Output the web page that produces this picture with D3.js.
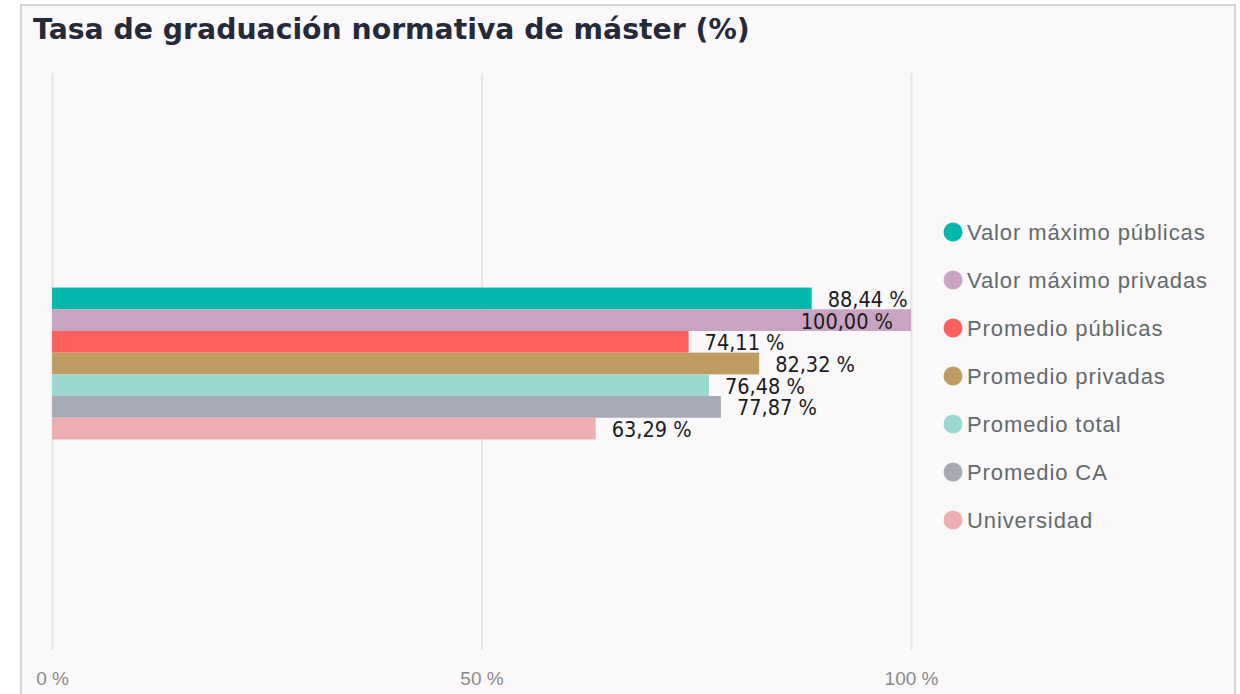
<!DOCTYPE html>
<html>
<head>
<meta charset="utf-8">
<script src="https://cdn.jsdelivr.net/npm/d3@7"></script>
<style>
  body { margin: 0; background: #ffffff; }
  svg { display: block; }
</style>
</head>
<body>
<div id="wrapper"></div>
<script>
const categories = ["Tasa de graduación normativa de máster"];
const seriesNames = [
    "Valor máximo públicas",
    "Valor máximo privadas",
    "Promedio públicas",
    "Promedio privadas",
    "Promedio total",
    "Promedio CA",
    "Universidad"
];
const seriesValues = [88.44, 100.00, 74.11, 82.32, 76.48, 77.87, 63.29];
const seriesColors = ["#02b8aa", "#c9a4c2", "#fd615d", "#be9c64", "#9cd7d1", "#a6aab4", "#ecaeae"];
const xTicks = [0, 50, 100];

function drawChart() {

    // dimensions
    const dms = {
        width: 1240,
        height: 694,
        plot: { left: 52, right: 911, top: 73, bottom: 650 }
    };

    const data = seriesNames.map((name, i) => ({
        name,
        value: seriesValues[i],
        color: seriesColors[i]
    }));

    const svg = d3.select("#wrapper")
        .append("svg")
        .attr("width", dms.width)
        .attr("height", dms.height);

    // panel
    svg.append("rect")
        .attr("x", 21)
        .attr("y", 5)
        .attr("width", 1214)
        .attr("height", 720)
        .attr("fill", "#faf8f9")
        .attr("stroke", "#d5d5d5")
        .attr("stroke-width", 2);

    svg.append("text")
        .attr("x", 33)
        .attr("y", 39)
        .attr("fill", "#252a3a")
        .style("font-family", "'DejaVu Sans', sans-serif")
        .style("font-weight", "bold")
        .style("font-size", "28.3px")
        .text("Tasa de graduación normativa de máster (%)");

    // scales
    const xScale = d3.scaleLinear()
        .domain([0, 100])
        .range([dms.plot.left, dms.plot.right]);

    const yScale = d3.scaleBand()
        .domain(categories)
        .range([dms.plot.top + 2, dms.plot.bottom + 2])
        .paddingInner(0)
        .paddingOuter(1.4);

    const ySeries = d3.scaleBand()
        .domain(seriesNames)
        .range([0, yScale.bandwidth()]);

    // grid + axis
    const xAxisGenerator = d3.axisBottom(xScale)
        .tickValues(xTicks)
        .tickSize(-(dms.plot.bottom - dms.plot.top))
        .tickPadding(22)
        .tickFormat(d => d + " %");

    const xAxis = svg.append("g")
        .attr("transform", `translate(0, ${dms.plot.bottom})`)
        .call(xAxisGenerator);

    xAxis.select(".domain").remove();
    xAxis.selectAll(".tick line")
        .attr("stroke", "#e6e5e6")
        .attr("stroke-width", 2);
    xAxis.selectAll(".tick text")
        .attr("fill", "#8a8a8a")
        .style("font-family", "'Liberation Sans', Arial, sans-serif")
        .style("font-size", "19px");

    // bars
    const catGroup = svg.append("g")
        .attr("transform", `translate(0, ${yScale(categories[0])})`);

    catGroup.selectAll("rect")
        .data(data)
        .join("rect")
            .attr("x", xScale(0))
            .attr("y", d => ySeries(d.name))
            .attr("width", d => xScale(d.value) - xScale(0))
            .attr("height", ySeries.bandwidth())
            .attr("fill", d => d.color);

    const fmt = v => v.toFixed(2).replace(".", ",") + " %";
    const labelLimit = 930;

    catGroup.selectAll("text.label")
        .data(data)
        .join("text")
            .attr("class", "label")
            .attr("y", d => ySeries(d.name) + ySeries.bandwidth() / 2 + 1)
            .attr("dominant-baseline", "central")
            .attr("fill", "#1b1b1b")
            .style("font-family", "'DejaVu Sans Condensed', 'DejaVu Sans', sans-serif")
            .style("font-size", "21.5px")
            .text(d => fmt(d.value))
            .each(function(d) {
                const w = this.getComputedTextLength();
                const end = xScale(d.value);
                if (end + 16 + w > labelLimit) {
                    d3.select(this).attr("x", end - 18).attr("text-anchor", "end");
                } else {
                    d3.select(this).attr("x", end + 16).attr("text-anchor", "start");
                }
            });

    // legend
    const legend = svg.append("g")
        .attr("transform", "translate(953, 232)");

    const items = legend.selectAll("g")
        .data(data)
        .join("g")
            .attr("transform", (d, i) => `translate(0, ${i * 48})`);

    items.append("circle")
        .attr("r", 9.5)
        .attr("fill", d => d.color);

    items.append("text")
        .attr("x", 14)
        .attr("dominant-baseline", "central")
        .attr("fill", "#5f6a6b")
        .style("font-family", "'Liberation Sans', Arial, sans-serif")
        .style("font-size", "22px")
        .style("letter-spacing", "0.9px")
        .text(d => d.name);
}

drawChart();
</script>
</body>
</html>
